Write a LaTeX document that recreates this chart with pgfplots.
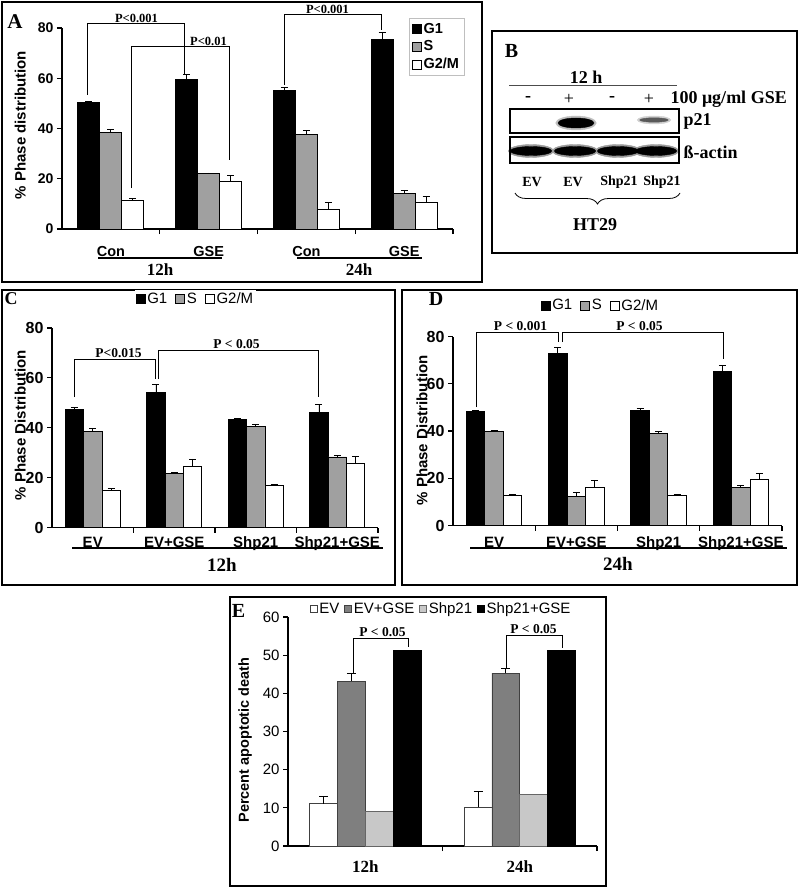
\documentclass[border=0pt]{standalone}
\usepackage{fontspec}
\setmainfont{Liberation Serif}
\setsansfont{Liberation Sans}
\usepackage{pgfplots}
\pgfplotsset{compat=1.18}
\usepackage{pgfplotstable}
\usetikzlibrary{decorations.pathreplacing}
\newcommand{\fs}[1]{\fontsize{#1}{#1}\selectfont}
\definecolor{barS}{HTML}{A0A0A0}
\definecolor{eGray}{HTML}{7F7F7F}
\definecolor{eLight}{HTML}{C8C8C8}

\pgfplotstableread{
x   g1   eg1  s    es   g2   eg2
0.5 50.2 0.4  38.6 1.0  11.4 0.8
1.5 59.7 1.8  22.0 0.3  19.0 2.4
2.5 55.0 1.3  37.6 1.6  7.8  2.6
3.5 75.5 2.8  14.0 1.4  10.7 2.4
}\dataA
\pgfplotstableread{
x   g1   eg1  s    es   g2   eg2
0.5 47.2 0.8  38.6 1.0  14.8 1.0
1.5 54.3 3.0  21.7 0.4  24.5 3.0
2.5 43.3 0.5  40.5 0.7  16.8 0.4
3.5 46.2 3.0  28.3 0.7  25.7 2.7
}\dataC
\pgfplotstableread{
x   g1   eg1  s    es   g2   eg2
0.5 48.3 0.5  39.7 0.6  12.7 0.6
1.5 73.0 2.2  12.2 2.0  16.2 3.0
2.5 48.8 0.8  39.0 1.0  12.6 0.4
3.5 65.3 2.5  16.2 0.6  19.7 2.3
}\dataD
\pgfplotstableread{
x   ev   eev  gse  egse shp  sg
0.5 11.1 2.0  43.2 2.0  9.0  51.2
1.5 10.1 4.3  45.3 1.2  13.6 51.2
}\dataE

\pgfplotsset{
  ebar/.style={error bars/.cd, y dir=plus, y explicit,
    error bar style={line width=0.8pt, black},
    error mark options={rotate=90, mark size=#1, line width=0.8pt, black}},
  ebar/.default=3.5pt,
  baseax/.style={scale only axis, anchor=south west, clip=false,
    axis x line*=bottom, axis y line*=left,
    axis line style={-, line width=1.2pt},
    tick align=outside, major tick length=5pt,
    every tick/.style={black, line width=1.2pt},
    xticklabels={},
    extra x tick style={major tick length=0pt},
    /pgf/number format/assume math mode=true},
  phase/.style={baseax, xmin=0, xmax=4, ymin=0, ymax=80,
    ytick={0,20,40,60,80}, xtick={1,2,3,4},
    legend image code/.code={\draw[##1, line width=0.6pt] (0pt,-4.5pt) rectangle (9pt,4.5pt);}},
}

\begin{document}
\begin{tikzpicture}
\path[use as bounding box] (0pt,0pt) rectangle (800pt,-888pt);
\fill[white] (0pt,0pt) rectangle (800pt,-888pt);

% panel frames
\draw[line width=2pt] (2pt,-2pt) rectangle (482pt,-282pt);
\draw[line width=2pt] (492pt,-31pt) rectangle (797pt,-253pt);
\draw[line width=2pt] (2pt,-290pt) rectangle (395pt,-585pt);
\draw[line width=2pt] (402pt,-290pt) rectangle (797pt,-585pt);
\draw[line width=2pt] (230pt,-597pt) rectangle (606pt,-886pt);

% ================= A =================
\begin{axis}[phase, at={(62pt,-229pt)}, width=391pt, height=201pt,
  extra x ticks={0.5,1.5,2.5,3.5}, extra x tick labels={Con,GSE,Con,GSE},
  extra x tick style={xticklabel style={font=\fs{14.5}\bfseries\sffamily, anchor=base, yshift=-27pt}},
  yticklabel style={font=\fs{14}\bfseries\sffamily},
  every axis y label/.style={at={(axis description cs:-0.107,0.517)}, rotate=90, anchor=center, font=\fs{15}\bfseries\sffamily},
  ylabel={\% Phase distribution},
  legend style={at={(axis description cs:0.887,1.05)}, anchor=north west, draw=black!25, font=\fs{14.5}\bfseries\sffamily, row sep=2pt, inner sep=3pt},
  legend cell align=left]
\addplot[ybar, bar width=0.225, bar shift=0pt, fill=black, draw=black, line width=0.8pt, ebar] table[x expr=\thisrow{x}-0.225,y=g1,y error=eg1]{\dataA};
\addplot[ybar, bar width=0.225, bar shift=0pt, fill=barS, draw=black, line width=0.8pt, ebar] table[x=x,y=s,y error=es]{\dataA};
\addplot[ybar, bar width=0.225, bar shift=0pt, fill=white, draw=black, line width=0.8pt, ebar] table[x expr=\thisrow{x}+0.225,y=g2,y error=eg2]{\dataA};
\legend{G1,S,G2/M}
\end{axis}
\node[font=\fs{21}\bfseries] at (15pt,-22pt) {A};
\draw[line width=1.3pt] (98pt,-258pt) -- (222pt,-258pt);
\draw[line width=1.3pt] (297pt,-258pt) -- (422pt,-258pt);
\node[font=\fs{17}\bfseries] at (160pt,-270pt) {12h};
\node[font=\fs{17}\bfseries] at (359pt,-270pt) {24h};
\draw[line width=1pt] (87pt,-95pt) -- (87pt,-24pt) -- (184pt,-24pt) -- (184pt,-75pt);
\node[anchor=south, inner sep=1pt, font=\fs{12.5}\bfseries] at (136.5pt,-24pt) {P<0.001};
\draw[line width=1pt] (131pt,-188pt) -- (131pt,-47pt) -- (229pt,-47pt) -- (229pt,-160pt);
\node[anchor=south, inner sep=1pt, font=\fs{12.5}\bfseries] at (208.5pt,-47pt) {P<0.01};
\draw[line width=1pt] (284pt,-85pt) -- (284pt,-15pt) -- (381pt,-15pt) -- (381pt,-30pt);
\node[anchor=south, inner sep=1pt, font=\fs{12.5}\bfseries] at (327.5pt,-15pt) {P<0.001};

% ================= B =================
\begin{axis}[scale only axis, anchor=south west, at={(492pt,-253pt)}, width=305pt, height=222pt,
  xmin=492, xmax=797, ymin=-253, ymax=-31, hide axis, clip=false]
% p21, lane 2 (strong) and lane 4 (weak)
\addplot[only marks, mark=*, color=black!25, mark size=7pt, mark options={xscale=2.9}] coordinates {(576,-123)};
\addplot[only marks, mark=*, color=black, mark size=5pt, mark options={xscale=3.6}] coordinates {(576,-123)};
\addplot[only marks, mark=*, color=black!18, mark size=4pt, mark options={xscale=4.2}] coordinates {(654,-120)};
\addplot[only marks, mark=*, color=black!65, mark size=2.2pt, mark options={xscale=6.5}] coordinates {(654,-120)};
% beta-actin, four lanes
\addplot[only marks, mark=*, color=black!40, mark size=6.5pt, mark options={xscale=3.5}] coordinates {(531,-151) (575,-151) (618,-151) (656,-151)};
\addplot[only marks, mark=*, color=black, mark size=4.5pt, mark options={xscale=4.6}] coordinates {(531,-151) (575,-151) (618,-151) (656,-151)};
\end{axis}
\node[font=\fs{20}\bfseries] at (511.5pt,-51pt) {B};
\node[font=\fs{18}\bfseries] at (586pt,-77pt) {12 h};
\draw[line width=0.8pt, black!70] (509pt,-85pt) -- (677pt,-85pt);
\node[font=\fs{18}\bfseries] at (528pt,-99pt) {-};
\node[font=\fs{18}] at (569pt,-99pt) {+};
\node[font=\fs{18}\bfseries] at (612pt,-99pt) {-};
\node[font=\fs{18}] at (649pt,-99pt) {+};
\node[anchor=west, font=\fs{18}\bfseries] at (667pt,-99pt) {100 μg/ml GSE};
\draw[line width=1.8pt] (510pt,-109pt) rectangle (679pt,-133pt);
\draw[line width=1.8pt] (510pt,-137pt) rectangle (679pt,-163pt);
\node[anchor=west, font=\fs{18}\bfseries] at (680pt,-121pt) {p21};
\node[anchor=west, font=\fs{18}\bfseries] at (680pt,-152pt) {ß-actin};
\node[font=\fs{14}\bfseries] at (532pt,-182pt) {EV};
\node[font=\fs{14}\bfseries] at (573pt,-182pt) {EV};
\node[font=\fs{14}\bfseries] at (619pt,-182pt) {Shp21};
\node[font=\fs{14}\bfseries] at (662pt,-182pt) {Shp21};
\draw[decorate, decoration={brace, mirror, amplitude=11pt}, line width=0.8pt] (515pt,-193pt) -- (680pt,-193pt);
\node[font=\fs{18}\bfseries] at (595pt,-225pt) {HT29};

% ================= C =================
\begin{axis}[phase, at={(52pt,-527.5pt)}, width=326pt, height=199.5pt,
  extra x ticks={0.5,1.5,2.5,3.5}, extra x tick labels={EV,EV+GSE,Shp21,Shp21+GSE},
  extra x tick style={xticklabel style={font=\fs{15}\bfseries\sffamily, anchor=base, yshift=-20pt}},
  yticklabel style={font=\fs{16}\bfseries\sffamily},
  every axis y label/.style={at={(axis description cs:-0.097,0.513)}, rotate=90, anchor=center, font=\fs{15}\bfseries\sffamily},
  ylabel={\% Phase Distribution},
  legend style={at={(axis description cs:0.44,1.146)}, anchor=center, draw=none, font=\fs{15}\sffamily, legend columns=3, /tikz/every even column/.append style={column sep=6pt}, inner sep=1pt}]
\addplot[ybar, bar width=0.225, bar shift=0pt, fill=black, draw=black, line width=0.8pt, ebar] table[x expr=\thisrow{x}-0.225,y=g1,y error=eg1]{\dataC};
\addplot[ybar, bar width=0.225, bar shift=0pt, fill=barS, draw=black, line width=0.8pt, ebar] table[x=x,y=s,y error=es]{\dataC};
\addplot[ybar, bar width=0.225, bar shift=0pt, fill=white, draw=black, line width=0.8pt, ebar] table[x expr=\thisrow{x}+0.225,y=g2,y error=eg2]{\dataC};
\legend{G1,S,G2/M}
\end{axis}
\node[font=\fs{18}\bfseries] at (11pt,-299pt) {C};
\draw[line width=1.3pt] (72pt,-548pt) -- (383pt,-548pt);
\node[font=\fs{19}\bfseries] at (222pt,-564.5pt) {12h};
\draw[line width=1pt] (74.5pt,-397pt) -- (74.5pt,-359pt) -- (155pt,-359pt) -- (155pt,-379pt);
\node[anchor=south, inner sep=1pt, font=\fs{13.5}\bfseries] at (118.5pt,-359pt) {P<0.015};
\draw[line width=1pt] (158pt,-379pt) -- (158pt,-350pt) -- (318pt,-350pt) -- (318pt,-397pt);
\node[anchor=south, inner sep=1pt, font=\fs{13.5}\bfseries] at (236.5pt,-350pt) {P < 0.05};

% ================= D =================
\begin{axis}[phase, at={(453pt,-525.5pt)}, width=329pt, height=189pt,
  extra x ticks={0.5,1.5,2.5,3.5}, extra x tick labels={EV,EV+GSE,Shp21,Shp21+GSE},
  extra x tick style={xticklabel style={font=\fs{15}\bfseries\sffamily, anchor=base, yshift=-22pt}},
  yticklabel style={font=\fs{16}\bfseries\sffamily},
  every axis y label/.style={at={(axis description cs:-0.094,0.503)}, rotate=90, anchor=center, font=\fs{15}\bfseries\sffamily},
  ylabel={\% Phase Distribution},
  legend style={at={(axis description cs:0.448,1.165)}, anchor=center, draw=none, font=\fs{15}\sffamily, legend columns=3, /tikz/every even column/.append style={column sep=6pt}, inner sep=1pt}]
\addplot[ybar, bar width=0.225, bar shift=0pt, fill=black, draw=black, line width=0.8pt, ebar] table[x expr=\thisrow{x}-0.225,y=g1,y error=eg1]{\dataD};
\addplot[ybar, bar width=0.225, bar shift=0pt, fill=barS, draw=black, line width=0.8pt, ebar] table[x=x,y=s,y error=es]{\dataD};
\addplot[ybar, bar width=0.225, bar shift=0pt, fill=white, draw=black, line width=0.8pt, ebar] table[x expr=\thisrow{x}+0.225,y=g2,y error=eg2]{\dataD};
\legend{G1,S,G2/M}
\end{axis}
\node[font=\fs{20}\bfseries] at (436pt,-299pt) {D};
\draw[line width=1.3pt] (470pt,-548pt) -- (787pt,-548pt);
\node[font=\fs{19}\bfseries] at (618pt,-563.5pt) {24h};
\draw[line width=1pt] (476pt,-407pt) -- (476pt,-332pt) -- (558pt,-332pt) -- (558pt,-342pt);
\node[anchor=south, inner sep=1pt, font=\fs{13.5}\bfseries] at (520.5pt,-332pt) {P < 0.001};
\draw[line width=1pt] (562pt,-342pt) -- (562pt,-332pt) -- (723pt,-332pt) -- (723pt,-359pt);
\node[anchor=south, inner sep=1pt, font=\fs{13.5}\bfseries] at (639.5pt,-332pt) {P < 0.05};

% ================= E =================
\begin{axis}[baseax, at={(288pt,-846pt)}, width=309pt, height=229pt,
  xmin=0, xmax=2, ymin=0, ymax=60, ytick={0,10,...,60}, xtick={1,2},
  extra x ticks={0.5,1.5}, extra x tick labels={12h,24h},
  extra x tick style={xticklabel style={font=\fs{17}\bfseries\rmfamily, anchor=base, yshift=-26.5pt}},
  yticklabel style={font=\fs{15}\sffamily},
  every axis y label/.style={at={(axis description cs:-0.139,0.463)}, rotate=90, anchor=center, font=\fs{14.5}\bfseries\sffamily},
  ylabel={Percent apoptotic death},
  legend image code/.code={\draw[#1, line width=0.5pt] (0pt,-3.5pt) rectangle (7pt,3.5pt);},
  legend style={at={(axis description cs:0.07,1.035)}, anchor=west, draw=none, font=\fs{15}\sffamily, legend columns=4, /tikz/every even column/.append style={column sep=3pt}, inner sep=0pt}]
\addplot[ybar, bar width=0.18, bar shift=0pt, fill=white, draw=black!75, line width=0.6pt, ebar=4.5pt] table[x expr=\thisrow{x}-0.27,y=ev,y error=eev]{\dataE};
\addplot[ybar, bar width=0.18, bar shift=0pt, fill=eGray, draw=black!75, line width=0.6pt, ebar=4.5pt] table[x expr=\thisrow{x}-0.09,y=gse,y error=egse]{\dataE};
\addplot[ybar, bar width=0.18, bar shift=0pt, fill=eLight, draw=black!60, line width=0.6pt] table[x expr=\thisrow{x}+0.09,y=shp]{\dataE};
\addplot[ybar, bar width=0.18, bar shift=0pt, fill=black, draw=black, line width=0.6pt] table[x expr=\thisrow{x}+0.27,y=sg]{\dataE};
\legend{EV,EV+GSE,Shp21,Shp21+GSE}
\end{axis}
\node[font=\fs{20}\bfseries] at (238.5pt,-611pt) {E};
\draw[line width=1pt] (353pt,-673pt) -- (353pt,-638pt) -- (408.5pt,-638pt) -- (408.5pt,-647pt);
\node[anchor=south, inner sep=1pt, font=\fs{13.5}\bfseries] at (382.5pt,-638pt) {P < 0.05};
\draw[line width=1pt] (506pt,-668pt) -- (506pt,-635pt) -- (562pt,-635pt) -- (562pt,-648pt);
\node[anchor=south, inner sep=1pt, font=\fs{13.5}\bfseries] at (533.5pt,-635pt) {P < 0.05};
\end{tikzpicture}
\end{document}
